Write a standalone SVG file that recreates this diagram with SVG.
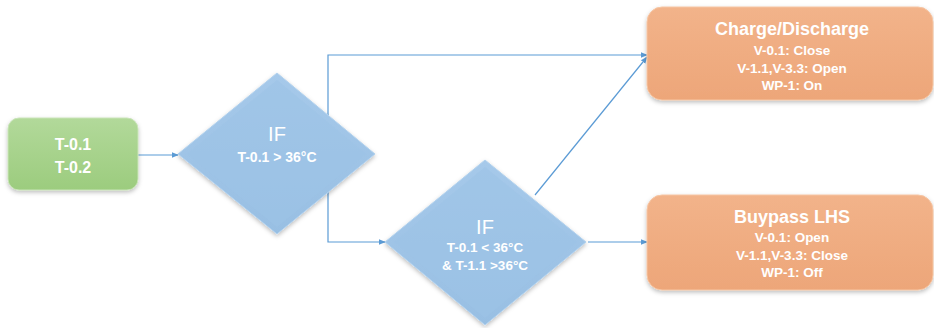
<svg xmlns="http://www.w3.org/2000/svg" width="934" height="328" viewBox="0 0 934 328">
<defs>
<style>
.conn{fill:none;stroke:#5b9bd5;stroke-width:1.2}
.t{font-family:"Liberation Sans",Arial,sans-serif;fill:#ffffff;text-anchor:middle;dominant-baseline:central}
.b{font-weight:bold}
.dia{fill:url(#gBlue);stroke:#b3d2ee;stroke-width:1}
</style>
<linearGradient id="gGreen" x1="0" y1="0" x2="0" y2="1">
<stop offset="0" stop-color="#b2d99a"/><stop offset="1" stop-color="#9ccc7e"/>
</linearGradient>
<linearGradient id="gOrange" x1="0" y1="0" x2="0" y2="1">
<stop offset="0" stop-color="#f2b38a"/><stop offset="1" stop-color="#eda679"/>
</linearGradient>
<linearGradient id="gBlue" x1="0" y1="0" x2="0" y2="1">
<stop offset="0" stop-color="#a6c9ea"/><stop offset="1" stop-color="#98bfe3"/>
</linearGradient>
<filter id="sh" x="-10%" y="-10%" width="120%" height="130%">
<feDropShadow dx="0" dy="2" stdDeviation="2" flood-color="#000" flood-opacity="0.25"/>
</filter>
<marker id="arr" viewBox="0 0 10 10" refX="9" refY="5" markerWidth="7" markerHeight="7" orient="auto" markerUnits="userSpaceOnUse">
<path d="M0,1 L10,5 L0,9 z" fill="#5b9bd5"/>
</marker>
</defs>

<g id="connectors">
<line class="conn" x1="138" y1="155" x2="178" y2="155" marker-end="url(#arr)"/>
<polyline class="conn" points="328,130 328,55 647,55" marker-end="url(#arr)"/>
<polyline class="conn" points="328,180 328,242 385,242" marker-end="url(#arr)"/>
<line class="conn" x1="535" y1="195" x2="647" y2="57" marker-end="url(#arr)"/>
<line class="conn" x1="588" y1="242" x2="647" y2="242" marker-end="url(#arr)"/>
</g>

<g id="sensors">
<rect x="8" y="118" width="130" height="72" rx="11" fill="url(#gGreen)" stroke="#c9e4b8" stroke-width="1" filter="url(#sh)"/>
<text class="t b" x="73" y="144" font-size="16">T-0.1</text>
<text class="t b" x="73" y="167" font-size="16">T-0.2</text>
</g>

<g id="decision1">
<polygon class="dia" points="277,73 375,154 277,234 178,154" filter="url(#sh)"/>
<polygon points="277,80 366,154 277,227 187,154" fill="#9dc3e6" opacity="0.6"/>
<text class="t" x="277" y="134" font-size="20">IF</text>
<text class="t b" x="277" y="157" font-size="14">T-0.1 &gt; 36°C</text>
</g>

<g id="decision2">
<polygon class="dia" points="485,160 586,242 485,325 385,242" filter="url(#sh)"/>
<polygon points="485,167 577,242 485,318 394,242" fill="#9dc3e6" opacity="0.6"/>
<text class="t" x="485" y="227" font-size="20">IF</text>
<text class="t b" x="485" y="247" font-size="13.5">T-0.1 &lt; 36°C</text>
<text class="t b" x="485" y="265" font-size="13.5">&amp; T-1.1 &gt;36°C</text>
</g>

<g id="charge">
<rect x="647" y="7" width="286" height="93" rx="15" fill="url(#gOrange)" stroke="#f6c6a4" stroke-width="1" filter="url(#sh)"/>
<text class="t b" x="792" y="29" font-size="18">Charge/Discharge</text>
<text class="t b" x="792" y="50" font-size="13.5">V-0.1: Close</text>
<text class="t b" x="792" y="68" font-size="13.5">V-1.1,V-3.3: Open</text>
<text class="t b" x="792" y="85" font-size="13.5">WP-1: On</text>
</g>

<g id="bypass">
<rect x="647" y="195" width="286" height="95" rx="15" fill="url(#gOrange)" stroke="#f6c6a4" stroke-width="1" filter="url(#sh)"/>
<text class="t b" x="792" y="217" font-size="18">Buypass LHS</text>
<text class="t b" x="792" y="237" font-size="13.5">V-0.1: Open</text>
<text class="t b" x="792" y="255" font-size="13.5">V-1.1,V-3.3: Close</text>
<text class="t b" x="792" y="272" font-size="13.5">WP-1: Off</text>
</g>
</svg>
